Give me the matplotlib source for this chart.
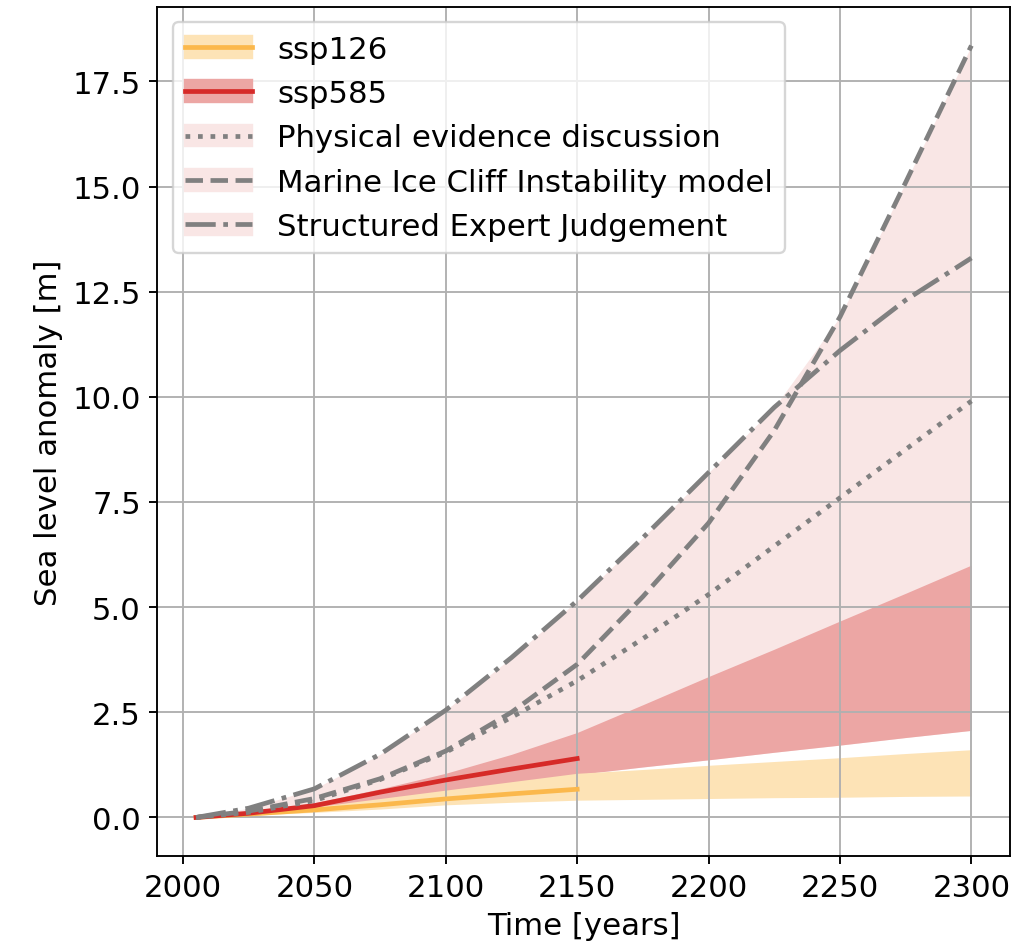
import numpy as np
import matplotlib
matplotlib.use("Agg")
import matplotlib.pyplot as plt
from matplotlib.patches import Patch
from matplotlib.lines import Line2D

# years for the projections
years = [2005, 2025, 2050, 2075, 2100, 2125, 2150, 2175, 2200, 2225, 2250, 2275, 2300]
years_short = [2005, 2025, 2050, 2075, 2100, 2125, 2150]

# ssp126 median (to 2150) and likely range (to 2300)
ssp126_med = [0.0, 0.08, 0.18, 0.30, 0.44, 0.56, 0.67]
ssp126_lo = [0.0, 0.05, 0.12, 0.20, 0.30, 0.36, 0.41, 0.43, 0.45, 0.47, 0.48, 0.50, 0.51]
ssp126_hi = [0.0, 0.10, 0.25, 0.45, 0.65, 0.85, 1.05, 1.14, 1.24, 1.33, 1.42, 1.52, 1.61]

# ssp585 median (to 2150) and likely range (to 2300)
ssp585_med = [0.0, 0.10, 0.28, 0.60, 0.89, 1.15, 1.40]
ssp585_lo = [0.0, 0.07, 0.22, 0.42, 0.62, 0.83, 1.02, 1.20, 1.37, 1.55, 1.72, 1.90, 2.07]
ssp585_hi = [0.0, 0.12, 0.35, 0.68, 1.05, 1.50, 2.02, 2.68, 3.35, 4.00, 4.67, 5.33, 6.00]

# low-likelihood high-impact storylines
phys_ev = [0.0, 0.12, 0.40, 0.90, 1.55, 2.38, 3.25, 4.25, 5.30, 6.45, 7.60, 8.75, 9.90]
mici = [0.0, 0.15, 0.45, 0.92, 1.58, 2.50, 3.64, 5.25, 7.00, 9.20, 11.90, 15.10, 18.35]
sej = [0.0, 0.22, 0.68, 1.50, 2.55, 3.80, 5.15, 6.65, 8.20, 9.75, 11.10, 12.30, 13.30]

c126_line = "#fbb84c"
c126_band = "#fde3b6"
c585_line = "#d62a28"
c585_band = "#eca6a4"
c_llhi = "#f9e6e5"
c_grey = "grey"

plt.rcParams["font.size"] = 13

fig, ax = plt.subplots(figsize=(1035 / 170, 953 / 170), dpi=170)
fig.subplots_adjust(left=0.152, right=0.976, bottom=0.1007, top=0.9916)

upper = np.max([phys_ev, mici, sej], axis=0)
ax.fill_between(years, ssp585_lo, upper, color=c_llhi, lw=0)
ax.fill_between(years, ssp585_lo, ssp585_hi, color=c585_band, lw=0)
ax.fill_between(years, ssp126_lo, ssp126_hi, color=c126_band, lw=0)

ax.plot(years_short, ssp126_med, color=c126_line, lw=2)
ax.plot(years_short, ssp585_med, color=c585_line, lw=2)

ax.plot(years, phys_ev, color=c_grey, ls=":", lw=2)
ax.plot(years, mici, color=c_grey, ls="--", lw=2)
ax.plot(years, sej, color=c_grey, ls="-.", lw=2)

ax.grid(True)
ax.set_xlabel("Time [years]")
ax.set_ylabel("Sea level anomaly [m]")
ax.set_yticks(np.arange(0, 18, 2.5))

handles = [
    (Patch(color=c126_band), Line2D([], [], color=c126_line, lw=2)),
    (Patch(color=c585_band), Line2D([], [], color=c585_line, lw=2)),
    (Patch(color=c_llhi), Line2D([], [], color=c_grey, ls=":", lw=2)),
    (Patch(color=c_llhi), Line2D([], [], color=c_grey, ls="--", lw=2)),
    (Patch(color=c_llhi), Line2D([], [], color=c_grey, ls="-.", lw=2)),
]
labels = ["ssp126", "ssp585", "Physical evidence discussion",
          "Marine Ice Cliff Instability model", "Structured Expert Judgement"]
ax.legend(handles, labels, loc="upper left", handlelength=2.2)

plt.savefig("out.png", dpi=170)
